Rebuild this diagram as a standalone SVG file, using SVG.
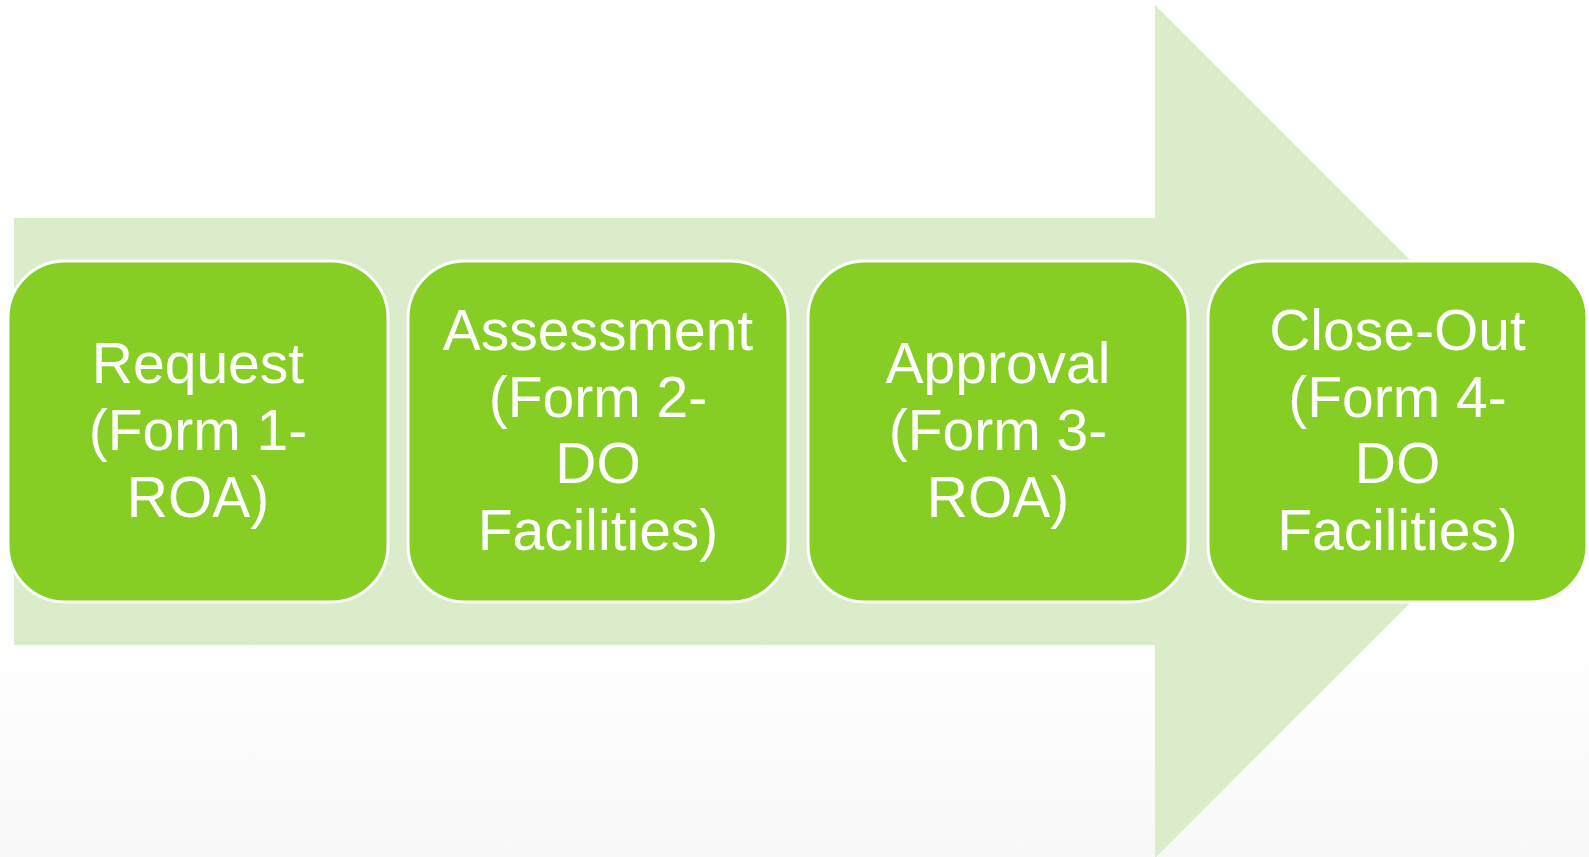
<svg xmlns="http://www.w3.org/2000/svg" width="1589" height="857" viewBox="0 0 1589 857">
<defs>
<linearGradient id="bg" x1="0" y1="0" x2="0" y2="857" gradientUnits="userSpaceOnUse">
<stop offset="0" stop-color="#ffffff"/>
<stop offset="0.74" stop-color="#ffffff"/>
<stop offset="1" stop-color="#f8f8f8"/>
</linearGradient>
<style>
.box{fill:#86ce24;stroke:#ffffff;stroke-width:3}
.lbl{font-family:"Liberation Sans",Arial,sans-serif;font-size:57px;fill:#ffffff;text-anchor:middle}
</style>
</defs>
<rect x="0" y="0" width="1589" height="857" fill="url(#bg)"/>
<g id="arrow">
<polygon points="14,218 1155,218 1155,5 1581.5,431.5 1155,858 1155,645 14,645" fill="#daecca"/>
</g>
<g id="connectors"></g>
<g id="node1">
<rect class="box" x="8" y="261" width="380" height="341" rx="57" ry="57"/>
<text class="lbl"><tspan x="198" y="383">Request</tspan><tspan x="198" y="450">(Form 1-</tspan><tspan x="198" y="517">ROA)</tspan></text>
</g>
<g id="node2">
<rect class="box" x="408" y="261" width="380" height="341" rx="57" ry="57"/>
<text class="lbl"><tspan x="598" y="350">Assessment</tspan><tspan x="598" y="417">(Form 2-</tspan><tspan x="598" y="483">DO</tspan><tspan x="598" y="550">Facilities)</tspan></text>
</g>
<g id="node3">
<rect class="box" x="808" y="261" width="380" height="341" rx="57" ry="57"/>
<text class="lbl"><tspan x="998" y="383">Approval</tspan><tspan x="998" y="450">(Form 3-</tspan><tspan x="998" y="517">ROA)</tspan></text>
</g>
<g id="node4">
<rect class="box" x="1208" y="261" width="379" height="341" rx="57" ry="57"/>
<text class="lbl"><tspan x="1397.5" y="350">Close-Out</tspan><tspan x="1397.5" y="417">(Form 4-</tspan><tspan x="1397.5" y="483">DO</tspan><tspan x="1397.5" y="550">Facilities)</tspan></text>
</g>
</svg>
